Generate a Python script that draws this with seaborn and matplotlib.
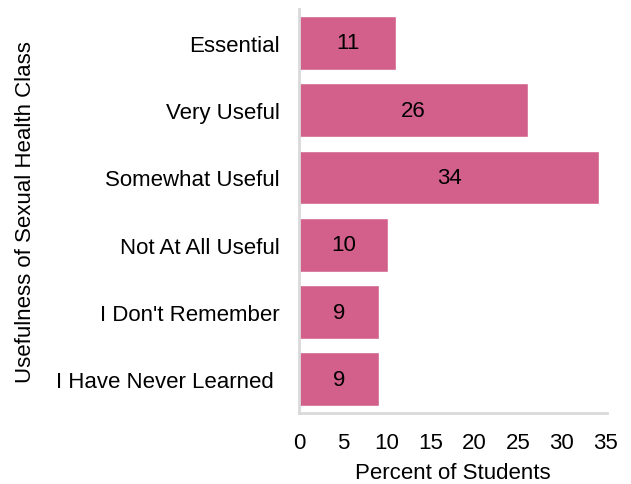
import matplotlib
matplotlib.use("Agg")
import matplotlib.pyplot as plt
import seaborn as sns
import pandas as pd

categories = ["Essential", "Very Useful", "Somewhat Useful", "Not At All Useful",
              "I Don't Remember", "I Have Never Learned "]
percents = [11.1, 26.2, 34.3, 10.2, 9.1, 9.1]
x_ticks = [0, 5, 10, 15, 20, 25, 30, 35]

bar_color = "#d3608a"
spine_color = "#d9d9d9"

sns.set_theme(style="white")
plt.rcParams["font.family"] = ["Liberation Sans", "DejaVu Sans"]

df = pd.DataFrame({"category": categories, "percent": percents})

fig = plt.figure(figsize=(6.31, 4.85), dpi=100)
ax = fig.add_axes([0.4739, 0.1464, 0.962 - 0.4739, 0.979 - 0.1464])

sns.barplot(data=df, x="percent", y="category", color=bar_color,
            saturation=1, width=0.8, ax=ax)

for p, val in zip(ax.patches, percents):
    ax.text(p.get_x() + p.get_width() / 2, p.get_y() + p.get_height() / 2,
            f"{val:.0f}", ha="center", va="center", fontsize=16, color="black")

ax.set_xlim(0, 35.2)
ax.set_xticks(x_ticks)
ax.set_xlabel("Percent of Students", fontsize=16, labelpad=6, color="black")
ax.set_ylabel("Usefulness of Sexual Health Class", fontsize=16, labelpad=14,
              color="black")
ax.tick_params(axis="x", length=0, pad=14, labelsize=16, colors="black")
ax.tick_params(axis="y", length=0, pad=14, labelsize=16, colors="black")

for side in ["top", "right"]:
    ax.spines[side].set_visible(False)
for side in ["left", "bottom"]:
    ax.spines[side].set_color(spine_color)
    ax.spines[side].set_linewidth(2)

fig.savefig("out.png", dpi=100)
